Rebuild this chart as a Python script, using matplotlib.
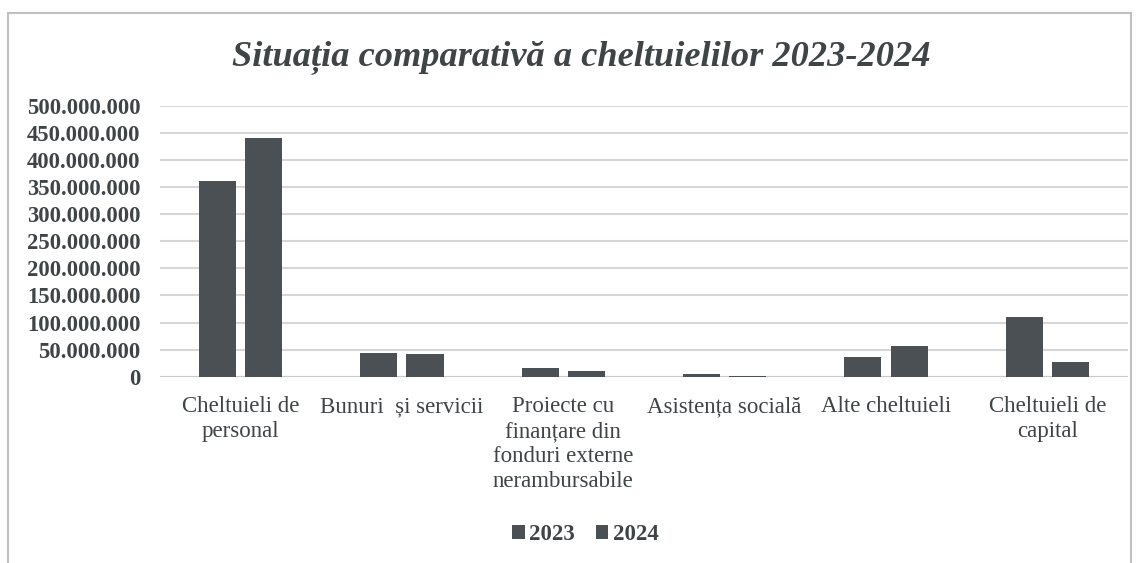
import matplotlib
matplotlib.use('Agg')
import matplotlib.pyplot as plt
from matplotlib.patches import Patch, Rectangle
from matplotlib.ticker import FuncFormatter
import numpy as np

# date
categorii = ['Cheltuieli de\npersonal', 'Bunuri  și servicii',
             'Proiecte cu\nfinanțare din\nfonduri externe\nnerambursabile',
             'Asistența socială', 'Alte cheltuieli', 'Cheltuieli de\ncapital']
ani = ['2023', '2024']
val_2023 = [362000000, 43000000, 15500000, 4400000, 37000000, 109500000]
val_2024 = [440000000, 42500000, 10500000, 500000, 56500000, 27500000]
y_ticks = np.arange(0, 500000001, 50000000)

culoare = '#4a5053'
text_col = '#3f4447'
grid_col = '#d6d6d6'

plt.rcParams['font.family'] = ['Liberation Serif', 'DejaVu Serif']

fig = plt.figure(figsize=(11.41, 5.63), dpi=100)
ax = fig.add_axes([0.1402, 0.3309, 0.8484, 0.4808])

x = np.arange(len(categorii))
w = 0.23
gap = 0.056
ax.bar(x - (w + gap) / 2, val_2023, w, color=culoare, zorder=3)
ax.bar(x + (w + gap) / 2, val_2024, w, color=culoare, zorder=3)

ax.set_xlim(-0.5, len(categorii) - 0.5)
ax.set_ylim(0, 500000000)
ax.set_yticks(y_ticks)
ax.yaxis.set_major_formatter(FuncFormatter(lambda v, p: f'{int(v):,}'.replace(',', '.')))
ax.grid(axis='y', color=grid_col, linewidth=1.5, zorder=0)
for s in ax.spines.values():
    s.set_visible(False)
ax.axhline(0, color='#c8c8c8', linewidth=1.5, zorder=2)

ax.tick_params(axis='y', length=0, pad=14, labelsize=16.3, labelcolor=text_col)
for lb in ax.get_yticklabels():
    lb.set_fontweight('bold')
ax.set_xticks(x)
ax.set_xticklabels(categorii, fontsize=16.5, color=text_col, linespacing=1.25)
ax.tick_params(axis='x', length=0, pad=14)

fig.text(0.509, 0.898, 'Situația comparativă a cheltuielilor 2023-2024', ha='center', va='center',
         fontsize=26.2, fontweight='bold', fontstyle='italic', color=text_col)

handles = [Patch(facecolor=culoare, label=a) for a in ani]
leg = fig.legend(handles=handles, loc='center', bbox_to_anchor=(0.513, 1 - 535 / 563), ncol=2,
                 frameon=False, handlelength=0.55, handleheight=0.55, handletextpad=0.2,
                 columnspacing=0.9, prop={'size': 16.5, 'weight': 'bold'})
for t in leg.get_texts():
    t.set_color(text_col)

# chenarul graficului
fig.patches.append(Rectangle((8 / 1141, -0.01), 1123 / 1141, 1 - 13 / 563 + 0.01, transform=fig.transFigure,
                             fill=False, edgecolor='#c0c0c0', linewidth=1.5))

fig.savefig('out.png', dpi=100)
